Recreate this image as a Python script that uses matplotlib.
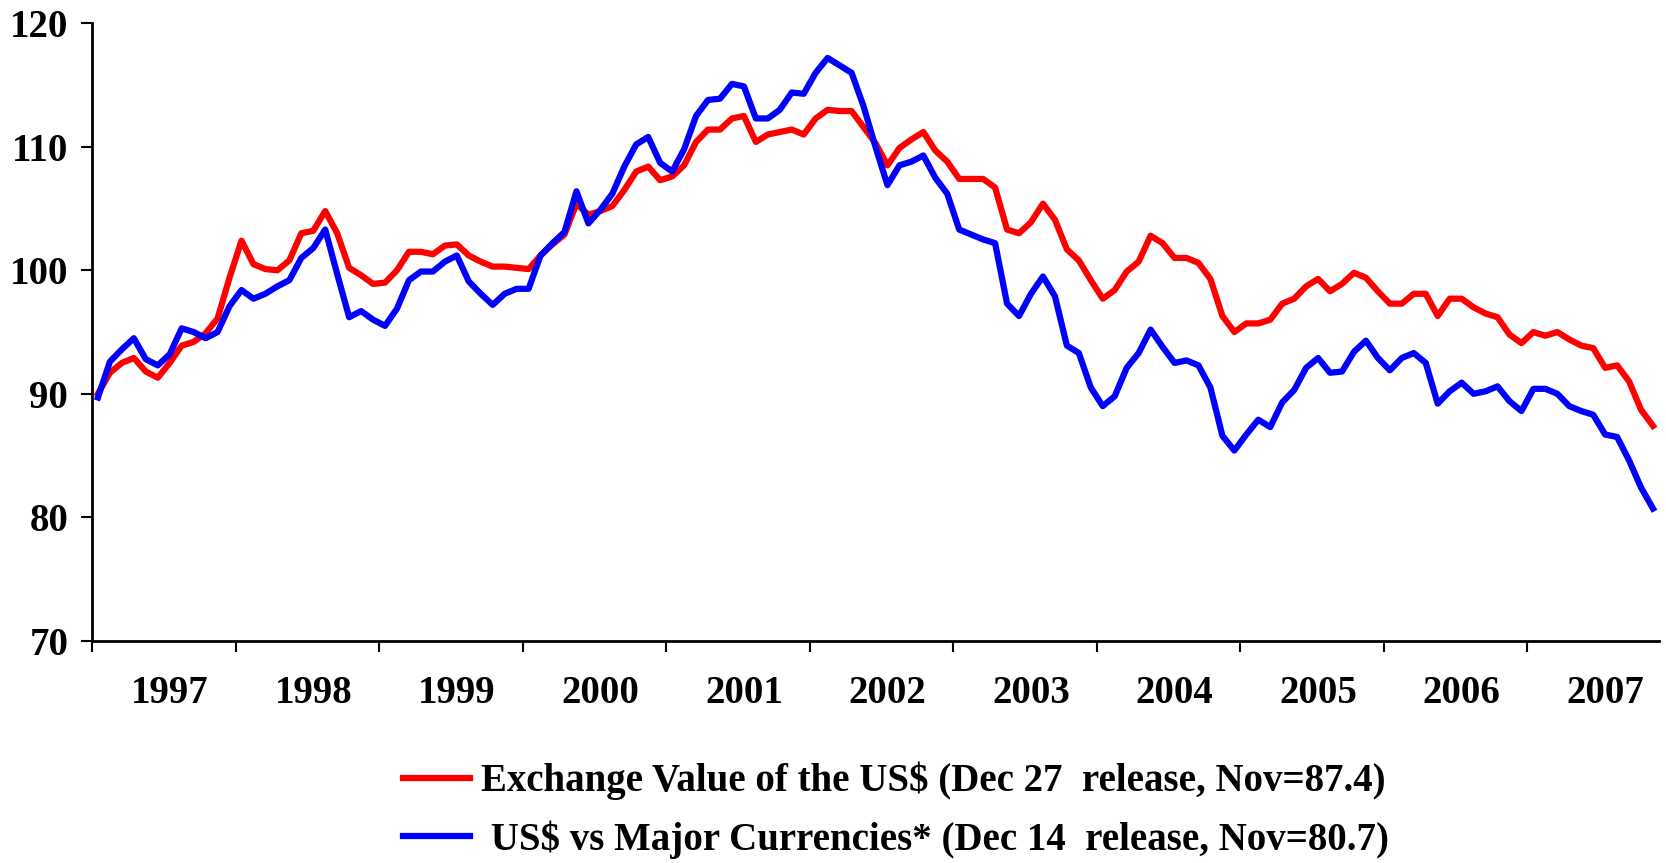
import matplotlib
matplotlib.use("Agg")
import matplotlib.pyplot as plt
import numpy as np

# monthly values, Jan 1997 .. Nov 2007
exchange_value = [
    90.0, 91.7, 92.5, 92.9, 91.8, 91.3, 92.5, 93.9, 94.2, 94.9, 96.1, 99.4,
    102.4, 100.5, 100.1, 100.0, 100.8, 103.0, 103.2, 104.8, 103.0, 100.2, 99.6, 98.9,
    99.0, 100.0, 101.5, 101.5, 101.3, 102.0, 102.1, 101.2, 100.7, 100.3, 100.3, 100.2,
    100.1, 101.2, 102.1, 102.9, 105.4, 104.5, 104.8, 105.2, 106.5, 108.0, 108.4, 107.3,
    107.6, 108.5, 110.4, 111.4, 111.4, 112.3, 112.5, 110.4, 111.0, 111.2, 111.4, 111.0,
    112.3, 113.0, 112.9, 112.9, 111.6, 110.3, 108.5, 109.9, 110.6, 111.2, 109.7, 108.8,
    107.4, 107.4, 107.4, 106.7, 103.3, 103.0, 103.9, 105.4, 104.1, 101.7, 100.8, 99.2,
    97.7, 98.4, 99.9, 100.7, 102.8, 102.2, 101.0, 101.0, 100.6, 99.3, 96.3, 95.0,
    95.7, 95.7, 96.0, 97.3, 97.7, 98.7, 99.3, 98.3, 98.9, 99.8, 99.4, 98.3,
    97.3, 97.3, 98.1, 98.1, 96.3, 97.7, 97.7, 97.0, 96.5, 96.2, 94.8, 94.1,
    95.0, 94.7, 95.0, 94.4, 93.9, 93.7, 92.1, 92.3, 91.0, 88.7, 87.4,
]
major_currencies = [
    89.7, 92.6, 93.6, 94.5, 92.8, 92.3, 93.2, 95.3, 95.0, 94.5, 95.0, 97.1,
    98.4, 97.7, 98.1, 98.7, 99.2, 101.0, 101.8, 103.3, 99.7, 96.2, 96.7, 96.0,
    95.5, 96.9, 99.2, 99.9, 99.9, 100.7, 101.2, 99.1, 98.1, 97.2, 98.1, 98.5,
    98.5, 101.2, 102.2, 103.1, 106.4, 103.8, 104.9, 106.2, 108.4, 110.2, 110.8, 108.7,
    108.0, 109.8, 112.5, 113.8, 113.9, 115.1, 114.9, 112.3, 112.3, 113.0, 114.4, 114.3,
    116.0, 117.2, 116.6, 116.0, 113.3, 110.0, 106.9, 108.5, 108.8, 109.3, 107.5, 106.2,
    103.3, 102.9, 102.5, 102.2, 97.3, 96.3, 98.1, 99.5, 97.9, 93.9, 93.3, 90.5,
    89.0, 89.8, 92.1, 93.3, 95.2, 93.8, 92.5, 92.7, 92.3, 90.5, 86.6, 85.4,
    86.7, 87.9, 87.3, 89.3, 90.3, 92.1, 92.9, 91.7, 91.8, 93.4, 94.3, 92.9,
    91.9, 92.9, 93.3, 92.5, 89.2, 90.2, 90.9, 90.0, 90.2, 90.6, 89.4, 88.6,
    90.4, 90.4, 90.0, 89.0, 88.6, 88.3, 86.7, 86.5, 84.6, 82.4, 80.7,
]
years = ["1997", "1998", "1999", "2000", "2001", "2002",
         "2003", "2004", "2005", "2006", "2007"]
label_red = "Exchange Value of the US\\$ (Dec 27  release, Nov=87.4)"
label_blue = " US\\$ vs Major Currencies* (Dec 14  release, Nov=80.7)"

plt.rcParams['font.family'] = ['Liberation Serif', 'DejaVu Serif']
plt.rcParams['font.weight'] = 'bold'

n = len(exchange_value)
x = np.arange(n) + 0.5

fig = plt.figure(figsize=(16.66, 8.63), dpi=100)
ax = fig.add_axes([0.0552, 0.2576, 0.9406, 0.7153])

ax.plot(x, exchange_value, color='#ff0000', lw=4.5, label=label_red)
ax.plot(x, major_currencies, color='#0000ff', lw=4.5, label=label_blue)

ax.set_xlim(0, n)
ax.set_ylim(70, 120)
ax.set_yticks(np.arange(70, 121, 10))

# year boundaries as major ticks, year name sits on the July category
ax.set_xticks(np.arange(0, n, 12))
ax.set_xticklabels([])
ax.set_xticks([i * 12 + 6.5 for i in range(len(years))], minor=True)
ax.set_xticklabels(years, minor=True)
ax.tick_params(axis='x', which='minor', length=0, pad=25, labelsize=28)
ax.tick_params(axis='x', which='major', length=8, width=1.5, direction='out')
ax.tick_params(axis='y', length=8, width=1.5, direction='out', pad=9, labelsize=28)

for s in ['top', 'right']:
    ax.spines[s].set_visible(False)
for s in ['left', 'bottom']:
    ax.spines[s].set_linewidth(2)

fig.legend(loc='center', bbox_to_anchor=(0.538, 0.061), frameon=False,
           fontsize=28, handlelength=1.7, handletextpad=0.3, labelspacing=0.52,
           borderpad=0)

plt.savefig("out.png", dpi=100)
